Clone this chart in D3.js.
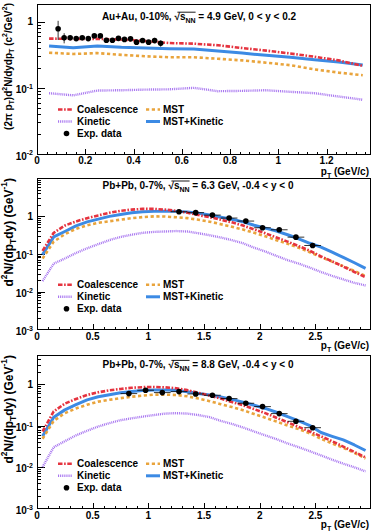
<!DOCTYPE html>
<html><head><meta charset="utf-8">
<script src="https://cdn.jsdelivr.net/npm/d3@7"></script>
<style>
body{margin:0;background:#fff}
svg{display:block}
text{font-family:"Liberation Sans",Arial,Helvetica,sans-serif;font-weight:bold;fill:#000}
</style>
</head><body>
<svg id="c" width="374" height="531"></svg>
<script>
// ---------- Panel 1: Au+Au 4.9 GeV ----------
const ptCurve1 = [0.05,0.15,0.25,0.35,0.45,0.55,0.65,0.75,0.85,0.95,1.05,1.15,1.25,1.35];
const coal1   = [0.555,0.55,0.55,0.535,0.51,0.475,0.465,0.44,0.40,0.365,0.33,0.295,0.26,0.215];
const kin1    = [0.083,0.077,0.091,0.092,0.094,0.095,0.10,0.089,0.09,0.092,0.087,0.083,0.074,0.066];
const mst1    = [0.34,0.325,0.335,0.315,0.30,0.29,0.29,0.275,0.26,0.24,0.22,0.19,0.17,0.155];
const mstkin1 = [0.43,0.405,0.43,0.41,0.40,0.39,0.385,0.36,0.335,0.31,0.29,0.265,0.245,0.222];
const ptData1 = [0.0875,0.1125,0.1375,0.1625,0.1875,0.2125,0.2375,0.2625,0.2875,0.3125,0.3375,0.3625,0.3875,0.4125,0.4375,0.4625,0.4875,0.5125];
const data1   = [0.78,0.57,0.57,0.555,0.57,0.555,0.61,0.61,0.525,0.525,0.56,0.54,0.55,0.49,0.52,0.49,0.52,0.47];
const err1    = [0.25,0.10,0.03,0.03,0.03,0.03,0.03,0.03,0.03,0.03,0.03,0.03,0.03,0.03,0.03,0.03,0.05,0.05];
const xTicks1 = [0,0.2,0.4,0.6,0.8,1,1.2];
const xLabels1 = ["0","0.2","0.4","0.6","0.8","1","1.2"];
const yTicks1 = [0.01,0.1,1];
const yLabels1 = [["10","-2"],["10","-1"],["1",""]];

// ---------- Panels 2,3 common pT grid ----------
const ptCurve23 = [0.05,0.15,0.25,0.35,0.45,0.55,0.65,0.75,0.85,0.95,1.05,1.15,1.25,1.35,1.45,1.55,1.65,1.75,1.85,1.95,2.05,2.15,2.25,2.35,2.45,2.55,2.65,2.75,2.85,2.95];

// ---------- Panel 2: Pb+Pb 6.3 GeV ----------
const coal2   = [0.12,0.36,0.56,0.72,0.88,1.04,1.22,1.38,1.48,1.55,1.55,1.48,1.38,1.22,1.06,0.93,0.80,0.68,0.56,0.44,0.35,0.27,0.21,0.16,0.12,0.085,0.063,0.046,0.033,0.024];
const kin2    = [0.019,0.055,0.075,0.105,0.14,0.18,0.23,0.28,0.32,0.36,0.38,0.39,0.40,0.39,0.35,0.31,0.27,0.23,0.19,0.145,0.115,0.088,0.068,0.055,0.043,0.033,0.026,0.021,0.017,0.0145];
const mst2    = [0.075,0.21,0.33,0.46,0.57,0.66,0.73,0.80,0.88,0.94,0.98,0.97,0.93,0.88,0.80,0.71,0.61,0.52,0.44,0.36,0.29,0.23,0.185,0.145,0.11,0.082,0.062,0.047,0.035,0.026];
const mstkin2 = [0.095,0.28,0.39,0.55,0.70,0.83,0.98,1.10,1.22,1.30,1.33,1.34,1.33,1.29,1.18,1.06,0.93,0.82,0.70,0.57,0.48,0.40,0.32,0.25,0.19,0.15,0.11,0.08,0.058,0.041];
const ptData2 = [1.275,1.425,1.575,1.725,1.875,2.025,2.175,2.325,2.475];
const data2   = [1.30,1.23,1.06,0.885,0.736,0.49,0.433,0.276,0.166];
const err2    = [0.06,0.06,0.05,0.04,0.035,0.025,0.02,0.015,0.01];
const xTicks23 = [0,0.5,1,1.5,2,2.5];
const xLabels23 = ["0","0.5","1","1.5","2","2.5"];
const yTicks23 = [0.001,0.01,0.1,1];
const yLabels23 = [["10","-3"],["10","-2"],["10","-1"],["1",""]];

// ---------- Panel 3: Pb+Pb 8.8 GeV ----------
const coal3   = [0.072,0.22,0.34,0.44,0.55,0.64,0.71,0.77,0.82,0.85,0.86,0.84,0.80,0.72,0.62,0.53,0.45,0.37,0.31,0.25,0.20,0.155,0.12,0.093,0.072,0.055,0.042,0.031,0.023,0.017];
const kin3    = [0.010,0.030,0.042,0.058,0.075,0.095,0.115,0.135,0.15,0.165,0.18,0.195,0.20,0.195,0.18,0.16,0.13,0.11,0.09,0.072,0.058,0.047,0.037,0.030,0.024,0.019,0.015,0.012,0.0098,0.0078];
const mst3    = [0.048,0.13,0.20,0.26,0.32,0.38,0.42,0.46,0.50,0.53,0.56,0.56,0.55,0.51,0.45,0.39,0.33,0.28,0.235,0.19,0.155,0.125,0.10,0.082,0.065,0.048,0.037,0.029,0.022,0.016];
const mstkin3 = [0.055,0.16,0.24,0.32,0.42,0.50,0.56,0.62,0.67,0.71,0.73,0.73,0.72,0.66,0.60,0.55,0.49,0.43,0.37,0.31,0.26,0.21,0.165,0.13,0.10,0.068,0.055,0.045,0.034,0.025];
const ptData3 = [0.825,0.975,1.125,1.275,1.425,1.575,1.725,1.875,2.025,2.175,2.325,2.475];
const data3   = [0.594,0.716,0.628,0.664,0.583,0.542,0.45,0.347,0.288,0.195,0.127,0.089];
const err3    = [0.03,0.035,0.03,0.03,0.03,0.027,0.022,0.017,0.014,0.01,0.007,0.005];

const legendNames = ["Coalescence","MST","Kinetic","MST+Kinetic","Exp. data"];

// ---------- styles ----------
const ST = {
  coal:{color:"#e5333f",w:2.6,dash:"4.5,1.6,1.6,1.6"},
  mst:{color:"#e9a43c",w:2.6,dash:"3.2,2.6"},
  kin:{color:"#a876f0",w:2.4,dash:"1,0.9"},
  mk:{color:"#3c8ae4",w:3,dash:null}
};

const svg = d3.select("#c");
svg.append("rect").attr("width",374).attr("height",531).attr("fill","#fff");

function rich(sel, parts, size){
  let shift = 0;
  parts.forEach(([t,m])=>{
    const ts = sel.append("tspan").text(t);
    let target = 0, fs = size;
    if(m==="sup"){target=-size*0.42; fs=size*0.7;}
    else if(m==="sub"){target=size*0.28; fs=size*0.7;}
    ts.attr("dy", target-shift).style("font-size", fs+"px");
    shift = target;
  });
  return sel;
}

function panel(cfg){
  const L=37, R=370, T=cfg.top, B=cfg.bottom;
  const x = d3.scaleLinear().domain([0,cfg.xmax]).range([L,R]);
  const y = d3.scaleLog().domain([cfg.ymin,cfg.ymax]).range([B,T]);
  const g = svg.append("g");
  const id = "clip"+cfg.id;
  svg.append("clipPath").attr("id",id).append("rect").attr("x",L).attr("y",T).attr("width",R-L).attr("height",B-T);

  g.append("rect").attr("x",L).attr("y",T).attr("width",R-L).attr("height",B-T)
    .attr("fill","none").attr("stroke","#000").attr("stroke-width",1).attr("shape-rendering","crispEdges");

  const minorX = [];
  const xs = cfg.xTicks[1]-cfg.xTicks[0];
  for(let v=0; v<=cfg.xmax+1e-9; v+=xs/5){ minorX.push(+v.toFixed(4)); }
  const gxMin = g.append("g").attr("transform",`translate(0,${B})`)
    .call(d3.axisBottom(x).tickValues(minorX).tickSizeInner(-2.5).tickSizeOuter(0).tickFormat(""));
  const gx = g.append("g").attr("transform",`translate(0,${B})`)
    .call(d3.axisBottom(x).tickValues(cfg.xTicks).tickSizeInner(-5.5).tickSizeOuter(0).tickFormat(""));
  [gxMin,gx].forEach(a=>{a.select(".domain").remove(); a.selectAll("line").attr("stroke","#000").attr("shape-rendering","crispEdges");});
  cfg.xTicks.forEach((v,i)=>{
    g.append("text").attr("x",x(v)).attr("y",B+cfg.xlabDy).attr("text-anchor","middle")
      .style("font-size","10px").text(cfg.xLabels[i]);
  });

  const minorY = [];
  cfg.yTicks.concat([cfg.yTicks[cfg.yTicks.length-1]*10]).forEach(d=>{
    for(let k=2;k<=9;k++){ const v=d*k; if(v<cfg.ymax) minorY.push(v); }
  });
  const gyMin = g.append("g").attr("transform",`translate(${L},0)`)
    .call(d3.axisLeft(y).tickValues(minorY).tickSizeInner(-4).tickSizeOuter(0).tickFormat(""));
  const gy = g.append("g").attr("transform",`translate(${L},0)`)
    .call(d3.axisLeft(y).tickValues(cfg.yTicks).tickSizeInner(-8).tickSizeOuter(0).tickFormat(""));
  [gyMin,gy].forEach(a=>{a.select(".domain").remove(); a.selectAll("line").attr("stroke","#000").attr("shape-rendering","crispEdges");});
  cfg.yTicks.forEach((v,i)=>{
    const [base,sup] = cfg.yLabels[i];
    const t = g.append("text").attr("x",33).attr("text-anchor","end").style("font-size","10px");
    if(sup){
      t.attr("y",y(v)+5.5);
      rich(t,[[base,"n"],[sup,"sup"]],10);
    } else {
      t.attr("y",y(v)+3.6).text(base);
    }
  });

  const yt = g.append("text").attr("transform",`translate(${cfg.ytX},${cfg.ytY}) rotate(-90)`)
    .attr("text-anchor","end").style("font-size",cfg.ytSize+"px");
  rich(yt,cfg.ytParts,cfg.ytSize);

  const xt = g.append("text").attr("x",369).attr("y",B+cfg.xtDy).attr("text-anchor","end").style("font-size","10px");
  rich(xt,[["p","n"],["T","sub"],[" (GeV/c)","n"]],10);

  const tt = g.append("text").attr("x",cfg.titleX).attr("y",T+cfg.titleDy).attr("text-anchor","middle").style("font-size","10px");
  rich(tt,[[cfg.title[0]+"\u221A","n"],["s","n"],["NN","sub"],[cfg.title[1],"n"]],10);
  const node = tt.node();
  const iS = cfg.title[0].length;
  const x0 = node.getStartPositionOfChar(iS).x + node.getExtentOfChar(iS).width*0.55;
  const x1 = node.getEndPositionOfChar(iS+3).x;
  const bb = node.getExtentOfChar(iS);
  g.append("line").attr("x1",x0).attr("x2",x1).attr("y1",bb.y+1.2).attr("y2",bb.y+1.2)
    .attr("stroke","#000").attr("stroke-width",0.9);

  const line = d3.line().x(d=>x(d[0])).y(d=>y(d[1]));
  const cg = g.append("g").attr("clip-path",`url(#${id})`);
  const series = [["kin",cfg.kin],["mk",cfg.mk],["mst",cfg.mst],["coal",cfg.coal]];
  series.forEach(([k,vals])=>{
    const s = ST[k];
    cg.append("path").datum(cfg.pt.map((p,i)=>[p,vals[i]]))
      .attr("d",line).attr("fill","none").attr("stroke",s.color).attr("stroke-width",s.w)
      .attr("stroke-dasharray",s.dash).attr("stroke-linejoin","round");
  });

  const dg = g.append("g");
  cfg.ptD.forEach((p,i)=>{
    const v = cfg.data[i], e = cfg.err[i];
    dg.append("line").attr("x1",x(p)).attr("x2",x(p)).attr("y1",y(v+e)).attr("y2",y(Math.max(v-e,cfg.ymin)))
      .attr("stroke","#000").attr("stroke-width",0.8);
    if(cfg.xerr){
      dg.append("line").attr("x1",x(p-cfg.xerr)).attr("x2",x(p+cfg.xerr)).attr("y1",y(v)).attr("y2",y(v))
        .attr("stroke","#000").attr("stroke-width",0.8);
    }
    dg.append("circle").attr("cx",x(p)).attr("cy",y(v)).attr("r",2.8).attr("fill","#000");
  });

  const rows = [B-44.5, B-32.5, B-20.5];
  const lg = g.append("g");
  const sample = (k,x1,x2,yy)=>{
    const s=ST[k];
    lg.append("line").attr("x1",x1).attr("x2",x2).attr("y1",yy).attr("y2",yy)
      .attr("stroke",s.color).attr("stroke-width",s.w).attr("stroke-dasharray",s.dash);
  };
  const ltext = (t,xx,yy)=>lg.append("text").attr("x",xx).attr("y",yy+3.6).style("font-size","10px").text(t);
  sample("coal",58,72,rows[0]); ltext(legendNames[0],77,rows[0]);
  sample("mst",146,160,rows[0]); ltext(legendNames[1],163,rows[0]);
  sample("kin",58,72,rows[1]); ltext(legendNames[2],77,rows[1]);
  sample("mk",146,160,rows[1]); ltext(legendNames[3],163,rows[1]);
  lg.append("circle").attr("cx",66.5).attr("cy",rows[2]).attr("r",2.8).attr("fill","#000");
  ltext(legendNames[4],77,rows[2]);
}

panel({id:1,top:4,bottom:154,xmax:1.38,ymin:0.01,ymax:1.85,
  xTicks:xTicks1,xLabels:xLabels1,yTicks:yTicks1,yLabels:yLabels1,
  pt:ptCurve1,coal:coal1,kin:kin1,mst:mst1,mk:mstkin1,
  ptD:ptData1,data:data1,err:err1,xerr:0,xlabDy:10.3,xtDy:21,
  title:["Au+Au, 0-10%, "," = 4.9 GeV, 0 < y < 0.2"],titleX:199,titleDy:16,
  ytX:11.5,ytY:3,ytSize:10,
  ytParts:[["(2\u03C0 p","n"],["T","sub"],[")d","n"],["2","sup"],["N/dydp","n"],["T","sub"],[" (c","n"],["2","sup"],["/GeV","n"],["2","sup"],[")","n"]]});

panel({id:2,top:178.3,bottom:329.3,xmax:2.99,ymin:0.001,ymax:10,
  xTicks:xTicks23,xLabels:xLabels23,yTicks:yTicks23,yLabels:yLabels23,
  pt:ptCurve23,coal:coal2,kin:kin2,mst:mst2,mk:mstkin2,
  ptD:ptData2,data:data2,err:err2,xerr:0.075,xlabDy:11,xtDy:19.5,
  title:["Pb+Pb, 0-7%, "," = 6.3 GeV, -0.4 < y < 0"],titleX:198,titleDy:10.5,
  ytX:12.5,ytY:178,ytSize:12,
  ytParts:[["d","n"],["2","sup"],["N/(dp","n"],["T","sub"],["dy) (GeV","n"],["-1","sup"],[")","n"]]});

panel({id:3,top:355.7,bottom:508.3,xmax:2.99,ymin:0.001,ymax:4.9,
  xTicks:xTicks23,xLabels:xLabels23,yTicks:yTicks23,yLabels:yLabels23,
  pt:ptCurve23,coal:coal3,kin:kin3,mst:mst3,mk:mstkin3,
  ptD:ptData3,data:data3,err:err3,xerr:0.075,xlabDy:11,xtDy:19.5,
  title:["Pb+Pb, 0-7%, "," = 8.8 GeV, -0.4 < y < 0"],titleX:198,titleDy:12.5,
  ytX:12.5,ytY:355,ytSize:12,
  ytParts:[["d","n"],["2","sup"],["N/(dp","n"],["T","sub"],["dy) (GeV","n"],["-1","sup"],[")","n"]]});
</script>
</body></html>
